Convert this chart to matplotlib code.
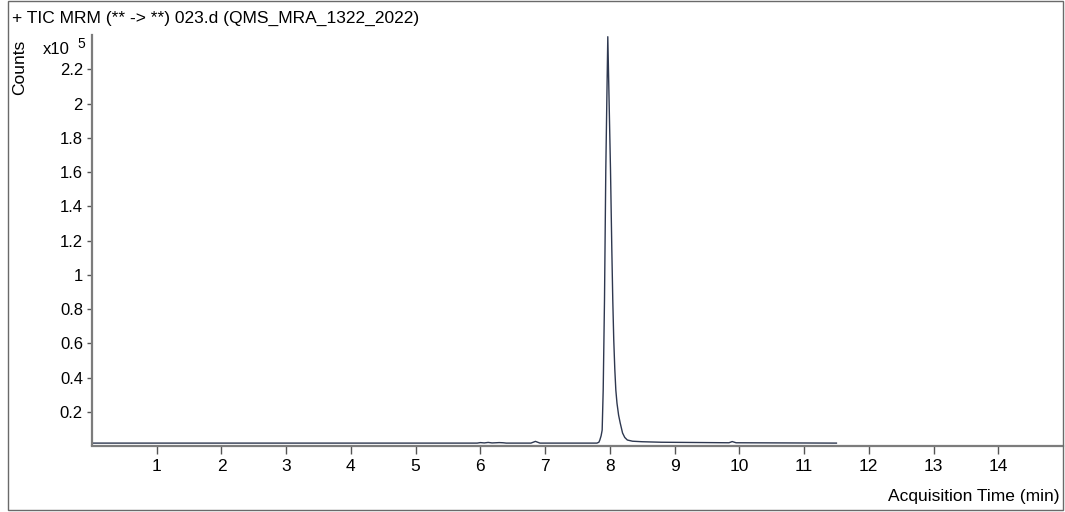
import matplotlib
matplotlib.use("Agg")
import matplotlib.pyplot as plt
from matplotlib.patches import Rectangle

plt.rcParams['font.family'] = ['Liberation Sans', 'DejaVu Sans']

# Total ion chromatogram, intensity in units of 1e5 counts
time_min = [0.0, 5.95, 6.00, 6.06, 6.12, 6.18, 6.24, 6.29, 6.35, 6.40,
            6.78, 6.85, 6.92, 7.80, 7.83, 7.845, 7.865, 7.881, 7.897, 7.917,
            7.937, 7.953, 7.968, 7.988, 8.010, 8.030, 8.045, 8.060, 8.076,
            8.092, 8.110, 8.135, 8.160, 8.196, 8.23, 8.27, 8.35, 8.50, 8.80,
            9.50, 9.84, 9.89, 9.95, 11.50]
counts_e5 = [0.017, 0.017, 0.020, 0.018, 0.021, 0.018, 0.019, 0.020, 0.019, 0.017,
             0.017, 0.027, 0.017, 0.017, 0.022, 0.035, 0.060, 0.093, 0.327, 0.851,
             1.609, 2.017, 2.390, 2.017, 1.609, 1.150, 0.851, 0.620, 0.450,
             0.327, 0.250, 0.180, 0.134, 0.076, 0.050, 0.035, 0.028, 0.025, 0.022,
             0.020, 0.019, 0.026, 0.019, 0.017]

x_ticks = list(range(1, 15))
y_ticks = [0.2, 0.4, 0.6, 0.8, 1.0, 1.2, 1.4, 1.6, 1.8, 2.0, 2.2]
y_tick_labels = ['0.2', '0.4', '0.6', '0.8', '1', '1.2', '1.4', '1.6', '1.8', '2', '2.2']

title_text = '+ TIC MRM (** -> **) 023.d (QMS_MRA_1322_2022)'

W, H = 1065, 512
fig = plt.figure(figsize=(W / 100, H / 100), dpi=100)
fig.patch.set_facecolor('white')

# outer frame around the whole plot
fig.add_artist(Rectangle((8 / W, 2 / H), (1063 - 8) / W, (511 - 2) / H,
                         transform=fig.transFigure, fill=False,
                         edgecolor='#6a6a6a', linewidth=1.0))

left, right = 92 / W, 1063 / W
bottom, top = 1 - 445.5 / H, 1 - 35 / H
ax = fig.add_axes([left, bottom, right - left, top - bottom])

ax.plot(time_min, counts_e5, color='#2e3850', linewidth=1.0,
        solid_joinstyle='round', antialiased=True)

ax.set_xlim(0, 15.0)
ax.set_ylim(0.003, 2.40)

for s in ('top', 'right'):
    ax.spines[s].set_visible(False)
for s in ('left', 'bottom'):
    ax.spines[s].set_color('#7c7c7c')
    ax.spines[s].set_linewidth(1.6)

ax.set_xticks(x_ticks)
ax.set_xticklabels([str(t) for t in x_ticks])
ax.set_yticks(y_ticks)
ax.set_yticklabels(y_tick_labels)
ax.tick_params(axis='x', direction='out', length=6, width=1.0, color='#555555',
               pad=4, labelsize=12.5, labelcolor='black')
ax.tick_params(axis='y', direction='out', length=3.5, width=1.0, color='#555555',
               pad=3, labelsize=12, labelcolor='black')

fig.text(12 / W, 1 - 18 / H, title_text, ha='left', va='center', fontsize=12.5)
fig.text(20 / W, 1 - 67 / H, 'Counts', rotation=90, ha='center', va='center', fontsize=12.5)
fig.text(43 / W, 1 - 49 / H, 'x10', ha='left', va='center', fontsize=12)
fig.text(77 / W, 1 - 44 / H, '5', ha='left', va='center', fontsize=10)
fig.text(1059 / W, 1 - 496 / H, 'Acquisition Time (min)', ha='right', va='center', fontsize=12.5)

fig.savefig('out.png', dpi=100, facecolor='white')
